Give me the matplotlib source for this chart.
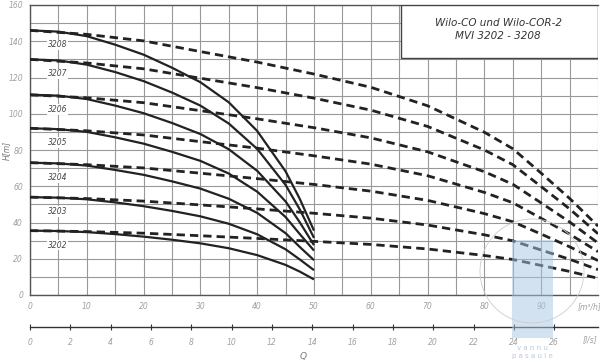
import numpy as np
import matplotlib
matplotlib.use("Agg")
import matplotlib.pyplot as plt
from matplotlib.patches import Rectangle, Circle
from matplotlib.ticker import MultipleLocator

# pump curves, Q in m3/h, H in m
pumps = ["3208", "3207", "3206", "3205", "3204", "3203", "3202"]

q_solid = [0, 5, 10, 15, 20, 25, 30, 35, 40, 45, 47.5, 50]
h_solid = [
    [146, 145.3, 142.8, 138.1, 132.6, 125.4, 117.4, 106.3, 90.5, 68.2, 53.0, 35.5],
    [130, 129.4, 127.1, 123.0, 118.0, 111.7, 104.5, 94.6, 80.6, 60.7, 47.2, 31.5],
    [110.5, 110.0, 108.1, 104.5, 100.3, 94.9, 88.8, 80.4, 68.5, 51.6, 40.1, 27.5],
    [92, 91.5, 90.0, 87.0, 83.5, 79.0, 74.0, 67.0, 57.0, 43.0, 33.6, 24.5],
    [73, 72.6, 71.4, 69.0, 66.3, 62.7, 58.7, 53.1, 45.3, 34.1, 26.5, 19.2],
    [54, 53.7, 52.8, 51.1, 49.0, 46.4, 43.4, 39.3, 33.5, 25.2, 19.6, 13.7],
    [35.5, 35.3, 34.7, 33.6, 32.2, 30.5, 28.5, 25.8, 22.0, 16.6, 12.9, 8.6],
]

q_dash = [0, 10, 20, 30, 40, 50, 60, 70, 80, 85, 90, 95, 100]
h_dash = [
    [146, 143.8, 140.2, 134.3, 128.5, 121.9, 114.6, 104.4, 89.8, 80.7, 67.2, 53.3, 38.0],
    [130, 128.0, 124.8, 119.6, 114.4, 108.6, 102.0, 93.0, 80.0, 71.9, 59.8, 47.5, 33.8],
    [110.5, 108.8, 106.1, 101.7, 97.2, 92.3, 86.7, 79.0, 68.0, 61.1, 50.8, 40.3, 28.7],
    [92, 90.6, 88.3, 84.6, 81.0, 76.8, 72.2, 65.8, 56.6, 50.9, 42.3, 33.6, 23.9],
    [73, 71.9, 70.1, 67.2, 64.2, 61.0, 57.3, 52.2, 44.9, 40.4, 33.6, 26.6, 19.0],
    [54, 53.2, 51.8, 49.7, 47.5, 45.1, 42.4, 38.6, 33.2, 29.9, 24.8, 19.7, 14.0],
    [35.5, 35.0, 34.1, 32.7, 31.2, 29.6, 27.9, 25.4, 21.8, 19.6, 16.3, 13.0, 9.2],
]

title_lines = ["Wilo-CO und Wilo-COR-2", "MVI 3202 - 3208"]
ls_ticks = list(range(0, 27, 2))

tick_col = "#a0a0a0"
line_col = "#222222"

fig = plt.figure(figsize=(6, 3.62), dpi=100)
ax = fig.add_axes([30 / 600, 1 - 295 / 362, 568 / 600, 290 / 362])

ax.set_xlim(0, 100)
ax.set_ylim(0, 160)
ax.xaxis.set_major_locator(MultipleLocator(10))
ax.xaxis.set_minor_locator(MultipleLocator(5))
ax.yaxis.set_major_locator(MultipleLocator(20))
ax.yaxis.set_minor_locator(MultipleLocator(10))
ax.grid(which="both", color="#999999", lw=0.8)
ax.set_axisbelow(True)
ax.tick_params(which="both", length=0, labelsize=5.5, labelcolor=tick_col, pad=5)
for lab in ax.get_yticklabels():
    lab.set_fontstyle("italic")
ax.set_xticks(np.arange(0, 100, 10))
ax.set_xticklabels([str(v) for v in range(0, 100, 10)], fontstyle="italic")
for sp in ax.spines.values():
    sp.set_color("#555555")
    sp.set_linewidth(1.0)
ax.spines["right"].set_visible(False)

for name, hs, hd in zip(pumps, h_solid, h_dash):
    ax.plot(q_solid, hs, color=line_col, lw=1.6, solid_capstyle="butt", zorder=3)
    ax.plot(q_dash, hd, color=line_col, lw=2.0, dashes=(3, 1.8), zorder=3)
    ax.text(4.9, hs[0] - 8, name, fontsize=5.5, fontstyle="italic", color="#444444",
            ha="center", va="center", zorder=4,
            bbox=dict(facecolor="white", edgecolor="none", pad=0.6))

ax.text(98.5, -6.2, "[m³/h]", fontsize=5.5, fontstyle="italic", color=tick_col,
        ha="center", va="center", clip_on=False)

# title box
ax.add_patch(Rectangle((65.3, 130.8), 34.7, 29.2, facecolor="white",
                       edgecolor="#444444", lw=1.0, zorder=5))
ax.text(82.4, 150, title_lines[0], fontsize=7.5, fontstyle="italic", color="#333333",
        ha="center", va="center", zorder=6)
ax.text(82.4, 142.7, title_lines[1], fontsize=7.5, fontstyle="italic", color="#333333",
        ha="center", va="center", zorder=6)

# l/s scale
ax2 = fig.add_axes([30 / 600, 1 - 327 / 362, 568 / 600, 0.0001])
ax2.set_xlim(0, 100 / 3.55)
ax2.set_yticks([])
for s in ["left", "right", "top"]:
    ax2.spines[s].set_visible(False)
ax2.spines["bottom"].set_color("#333333")
ax2.spines["bottom"].set_linewidth(1.0)
ax2.set_xticks(ls_ticks)
ax2.set_xticklabels([str(v) for v in ls_ticks], fontstyle="italic")
ax2.tick_params(axis="x", direction="inout", length=4, width=0.8, color="#333333",
                labelsize=5.5, labelcolor=tick_col, pad=6)
fig.text(590 / 600, 1 - 340 / 362, "[l/s]", fontsize=5.5, fontstyle="italic",
         color=tick_col, ha="center", va="center")

fig.text(303 / 600, 1 - 356 / 362, "Q", fontsize=6.5, fontstyle="italic",
         color="#777777", ha="center", va="center")
fig.text(6 / 600, 1 - 150 / 362, "H[m]", fontsize=5.5, fontstyle="italic",
         color="#777777", ha="center", va="center", rotation=90)

# watermark
fig.patches.append(Rectangle((512 / 600, 1 - 338 / 362), 41 / 600, 98 / 362,
                             transform=fig.transFigure, facecolor="#a9c6e2",
                             edgecolor="none", alpha=0.5, zorder=10))
fig.patches.append(Circle((5.32, 0.91), 0.52, transform=fig.dpi_scale_trans,
                          fill=False, edgecolor="#cccccc", lw=0.6, zorder=10))
fig.text(532 / 600, 1 - 348 / 362, "v a n n u", fontsize=5, color="#b8c8d8",
         ha="center", va="center")
fig.text(532 / 600, 1 - 356 / 362, "p a s a u l e", fontsize=5, color="#b8c8d8",
         ha="center", va="center")

fig.savefig("out.png", dpi=100)
